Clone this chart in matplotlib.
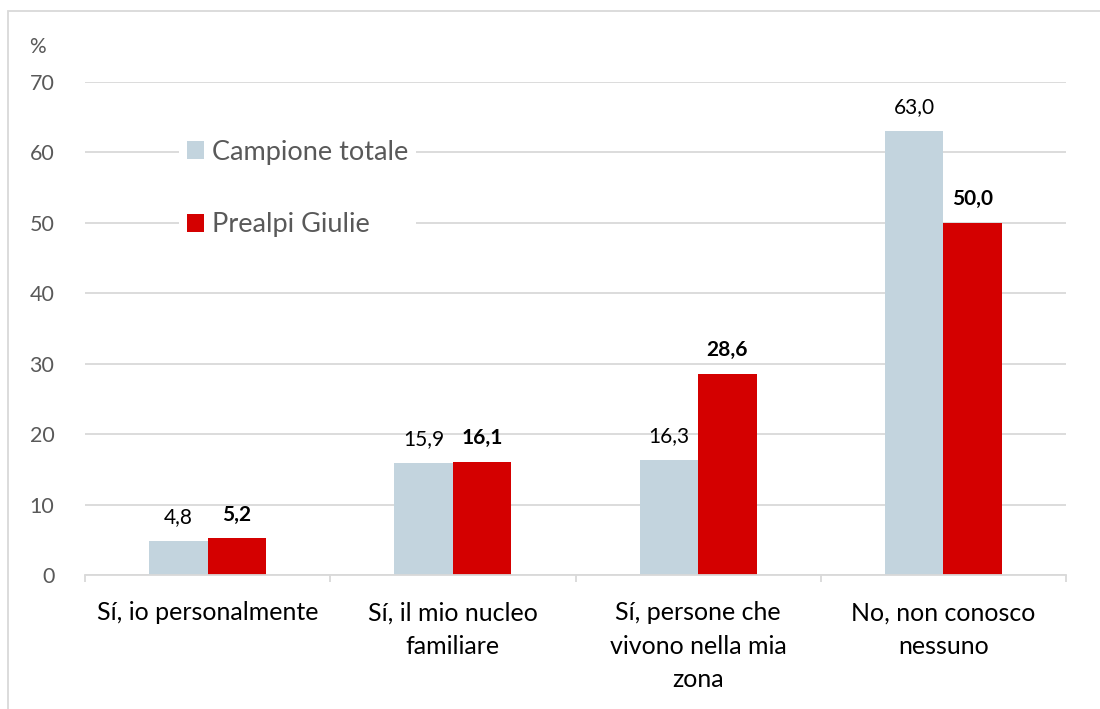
import matplotlib
matplotlib.use("Agg")
import matplotlib.pyplot as plt
from matplotlib.patches import Rectangle
import numpy as np

plt.rcParams['font.family'] = ['Lato', 'DejaVu Sans']

categories = [
    "Sí, io personalmente",
    "Sí, il mio nucleo\nfamiliare",
    "Sí, persone che\nvivono nella mia\nzona",
    "No, non conosco\nnessuno",
]
campione = [4.8, 15.9, 16.3, 63.0]
prealpi = [5.2, 16.1, 28.6, 50.0]
series_names = ["Campione totale", "Prealpi Giulie"]

c_light = "#C3D4DE"
c_red = "#D40000"
grid_c = "#D9D9D9"
txt_gray = "#595959"

fig = plt.figure(figsize=(11, 7.09), dpi=100)
ax = fig.add_axes([85/1100, 1-575/709, (1066-85)/1100, (575-82)/709])

x = np.arange(len(categories))
w = 0.239
ax.bar(x - w/2, campione, w, color=c_light, label=series_names[0], zorder=2)
ax.bar(x + w/2, prealpi, w, color=c_red, label=series_names[1], zorder=2)

def lab(v):
    return f"{v:.1f}".replace(".", ",")

for xi, v in zip(x - w/2, campione):
    ax.annotate(lab(v), (xi, v), xytext=(0, 10), textcoords="offset points",
                ha="center", va="bottom", fontsize=15, color="black")
for xi, v in zip(x + w/2, prealpi):
    ax.annotate(lab(v), (xi, v), xytext=(0, 10), textcoords="offset points",
                ha="center", va="bottom", fontsize=15, color="black", fontweight="bold")

ax.set_xlim(-0.5, 3.5)
ax.set_ylim(0, 70)
ax.set_yticks(range(0, 71, 10))
ax.yaxis.grid(True, color=grid_c, linewidth=1.3, zorder=0)
ax.set_axisbelow(True)
for s in ["top", "right", "left"]:
    ax.spines[s].set_visible(False)
ax.spines["bottom"].set_color(grid_c)
ax.spines["bottom"].set_linewidth(1.3)

ax.tick_params(axis="y", length=0, pad=22, labelsize=15.5, labelcolor=txt_gray)
ax.set_xticks(x)
ax.set_xticklabels(categories, fontsize=18, linespacing=1.55, va="top")
ax.tick_params(axis="x", which="major", length=0, pad=19, labelcolor="black")
ax.set_xticks(np.arange(-0.5, 4, 1), minor=True)
ax.tick_params(axis="x", which="minor", length=5, width=1.3, color=grid_c)

fig.text(29/1100, 1-47/709, "%", fontsize=15, color=txt_gray, ha="left", va="center")

leg = ax.legend(loc="center left", bbox_to_anchor=(80/981, (575-188.5)/493), fontsize=19.5,
                frameon=True, framealpha=1, facecolor="white", edgecolor="none",
                handlelength=0.63, handleheight=0.63, handletextpad=0.3,
                labelspacing=1.75, borderpad=0.3, fancybox=False, labelcolor=txt_gray)
leg.get_frame().set_linewidth(0)

fig.patches.append(Rectangle((8/1100, -0.1), 1.2, 1.1 - 11/709, transform=fig.transFigure,
                             fill=False, edgecolor=grid_c, linewidth=1.3, clip_on=False))

fig.savefig("out.png", dpi=100)
